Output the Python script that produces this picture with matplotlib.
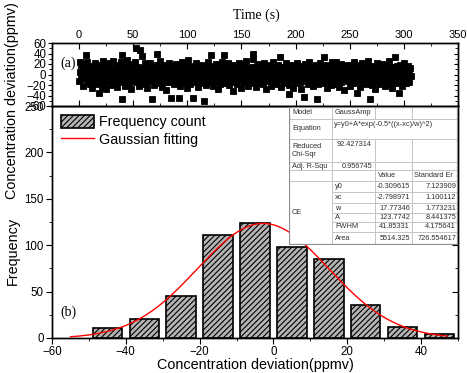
import matplotlib
matplotlib.use('Agg')
import matplotlib.pyplot as plt
import numpy as np
from matplotlib.ticker import MultipleLocator

plt.rcParams['font.family'] = ['Liberation Sans', 'DejaVu Sans']
plt.rcParams['hatch.linewidth'] = 0.8

# ---------------- data ----------------
# (a) concentration deviation time series (ppmv)
conc_dev = [
    -12, 24, 5, -8, 18, -3, 10, -22, 2, 15, -6, 20, 37, 23, -15, 8, -2, 12, -18, 4,
    -9, 16, -25, 6, 1, -14, 22, -4, 9, -19, 13, -7, -36, 3, 19, -11, 7, -23, 11, -1,
    25, -16, 4, -8, 14, -28, 0, 17, -5, 21, -13, 8, -20, 2, 12, -3, 26, -10, 6, -17,
    10, -2, 19, -24, 5, -9, 15, -14, 1, 23, 37, -46, 7, -6, 18, -21, 3, 11, -12, 28,
    -4, 9, -18, 13, -1, 20, -27, 6, -10, 16, -7, 2, 24, 50, -15, 10, -5, 14, -22, 4,
    46, -11, 8, -3, 35, -19, 12, -8, 0, 22, -16, 5, -26, 17, -2, 9, -13, 21, -6, 3,
    -46, 15, -9, 7, -20, 11, 1, -14, 19, 40, -4, 6, -17, 13, 25, -7, 2, -23, 10, -1,
    18, -12, 4, -29, 14, -5, 8, -15, 22, 0, -9, 11, -44, 6, -2, 16, -19, 3, 12, -8,
    20, -13, 5, -3, -44, 9, -21, 15, -6, 1, 24, -10, 7, -16, 12, -1, 18, -25, 4, 27,
    -7, 10, -18, 2, 14, -11, 6, -4, -45, 17, -14, 8, -2, 21, -9, 3, -24, 13, 0, -6,
    11, -17, 5, 19, -12, -50, 7, -3, 15, -20, 2, 9, -8, 23, -15, 4, -1, 12, 37, -10,
    6, -22, 16, -5, 1, 20, -13, 8, -28, 13, -2, 5, -18, 10, -7, 24, -11, 3, 17, 37,
    -6, 9, -16, 2, 14, -9, 21, -20, 6, -3, 11, -14, 0, 18, -31, 7, -8, 15, -1, 4,
    -19, 12, -5, 22, -11, 3, 16, -26, 8, -2, 10, -15, 19, -7, 1, 25, -12, 5, -21, 13,
    -4, 9, -17, 2, 15, -9, 40, 30, 6, -13, 11, -1, -23, 17, -6, 4, 20, -16, 8, -3,
    13, -10, 1, -19, 21, -5, 7, -27, 14, -2, 10, -12, 5, 18, -8, 0, -22, 12, -4, 23,
    -14, 6, -1, 16, -18, 9, -7, 2, 19, -11, 33, -3, 11, -24, 4, -9, 14, 1, -16, 8,
    22, -6, 3, -13, 10, -20, -37, 15, -2, 7, -10, 18, -25, 5, 12, -4, 0, -17, 21, -8,
    9, -1, 14, -15, 4, -28, 17, -6, 11, -12, 2, -42, 20, -9, 6, -3, 13, -19, 8, 24,
    -11, 1, 16, -7, 10, -22, 5, -14, 19, -2, 12, -47, 3, -18, 8, 14, -5, 21, -10, 0,
    7, -16, 11, -4, 33, -12, 2, 18, -26, 6, -8, 15, -1, 9, -20, 13, -3, 23, -14, 4,
    -7, 10, -18, 23, 1, 16, -11, 5, -23, 12, -2, 20, -15, 7, -6, 14, -29, 3, 17, -9,
    2, 11, -13, 19, -4, 8, -21, 0, 15, -8, 6, -17, 24, -3, 10, -12, 4, -35, 13, -1,
    18, -10, 7, -24, 12, -5, 21, -16, 3, 9, -2, 15, -19, 6, -7, 26, -13, 1, 11, -47,
    -6, 14, -20, 4, 17, -9, 8, -27, 12, -1, 22, -14, 5, -4, 10, -18, 16, 2, -11, 20,
    -5, 9, -15, 13, -22, 3, 18, -8, 7, -12, 25, -2, 11, -19, 6, 15, -26, 0, 12, -7,
    33, -10, 4, 16, -16, 8, -3, -35, 19, -6, 10, -21, 2, 14, -13, 21, -1, 7, -17, 11,
    -4, 17, -9, 5, -14, 12, -2,
]
sample_interval_s = 0.561

# (b) histogram
bin_centers = [-45, -35, -25, -15, -5, 5, 15, 25, 35, 45]
bin_counts = [11, 21, 45, 111, 124, 98, 85, 36, 12, 4]

# Gaussian fit parameters (from the table)
fit_y0 = -0.309615
fit_xc = -2.798971
fit_w = 17.77346
fit_A = 123.7742
fit_xmin, fit_xmax = -55, 47

# fit report table
tbl_top = [
    ["Model", "GaussAmp"],
    ["Equation", "y=y0+A*exp(-0.5*((x-xc)/w)^2)"],
    ["Reduced\nChi-Sqr", "92.427314"],
    ["Adj. R-Squ", "0.956745"],
]
tbl_header = ["Value", "Standard Er"]
tbl_group = "CE"
param_names = ["y0", "xc", "w", "A", "FWHM", "Area"]
param_values = ["-0.309615", "-2.798971", "17.77346", "123.7742", "41.85331", "5514.325"]
param_errors = ["7.123909", "1.100112", "1.773231", "8.441375", "4.175641", "726.554617"]

# ---------------- figure ----------------
W, H = 467, 373
fig = plt.figure(figsize=(W / 100, H / 100), dpi=100)

def fbox(x0, y0, x1, y1):
    return [x0 / W, 1 - y1 / H, (x1 - x0) / W, (y1 - y0) / H]

ax_b = fig.add_axes(fbox(52, 106, 458, 338))
ax_t = fig.add_axes(fbox(52, 43, 458, 106))

# ---- top panel ----
times = np.arange(len(conc_dev)) * sample_interval_s
ax_t.plot(times, conc_dev, linestyle='none', marker='s', markersize=4.0,
          markerfacecolor='black', markeredgecolor='black', markeredgewidth=0.6)
ax_t.set_xlim(-25, 350)
ax_t.set_ylim(-60, 60)
ax_t.xaxis.set_major_locator(MultipleLocator(50))
ax_t.xaxis.set_minor_locator(MultipleLocator(25))
ax_t.yaxis.set_major_locator(MultipleLocator(20))
ax_t.yaxis.set_minor_locator(MultipleLocator(10))
ax_t.tick_params(axis='x', which='both', top=True, bottom=True, labeltop=True,
                 labelbottom=False, direction='in', labelsize=8, pad=2)
ax_t.tick_params(axis='x', which='major', length=4)
ax_t.tick_params(axis='x', which='minor', length=2)
ax_t.tick_params(axis='y', which='both', left=True, right=False, direction='out',
                 labelsize=8.3, pad=1)
ax_t.tick_params(axis='y', which='major', length=3)
ax_t.tick_params(axis='y', which='minor', length=2)
ax_tr = ax_t.twinx()
ax_tr.set_ylim(-60, 60)
ax_tr.yaxis.set_major_locator(MultipleLocator(20))
ax_tr.yaxis.set_minor_locator(MultipleLocator(10))
ax_tr.tick_params(axis='y', which='both', direction='in', labelright=False)
ax_tr.tick_params(axis='y', which='major', length=3)
ax_tr.tick_params(axis='y', which='minor', length=2)
ax_t.text(0.02, 0.68, "(a)", transform=ax_t.transAxes, fontsize=10,
          family='Liberation Serif', va='center', ha='left')

# ---- bottom panel ----
bars = ax_b.bar(bin_centers, bin_counts, width=8, facecolor='#b4b4b4', edgecolor='black',
                hatch='//////', linewidth=1.2, label='Frequency count', zorder=2)
xf = np.linspace(fit_xmin, fit_xmax, 300)
yf = fit_y0 + fit_A * np.exp(-0.5 * ((xf - fit_xc) / fit_w) ** 2)
line, = ax_b.plot(xf, yf, color='red', linewidth=1.0, label='Gaussian fitting', zorder=3)
ax_b.set_xlim(-60, 50)
ax_b.set_ylim(0, 250)
ax_b.xaxis.set_major_locator(MultipleLocator(20))
ax_b.xaxis.set_minor_locator(MultipleLocator(10))
ax_b.yaxis.set_major_locator(MultipleLocator(50))
ax_b.yaxis.set_minor_locator(MultipleLocator(25))
ax_b.tick_params(axis='both', which='both', direction='out', labelsize=8.3, pad=2)
ax_b.tick_params(axis='both', which='major', length=4)
ax_b.tick_params(axis='both', which='minor', length=2.5)
ax_br = ax_b.twinx()
ax_br.set_ylim(0, 250)
ax_br.yaxis.set_major_locator(MultipleLocator(50))
ax_br.yaxis.set_minor_locator(MultipleLocator(25))
ax_br.tick_params(axis='y', which='both', direction='in', labelright=False)
ax_br.tick_params(axis='y', which='major', length=4)
ax_br.tick_params(axis='y', which='minor', length=2.5)
ax_b.set_xlabel("Concentration deviation(ppmv)", fontsize=10.4, labelpad=0)
ax_b.text(0.02, 0.11, "(b)", transform=ax_b.transAxes, fontsize=10,
          family='Liberation Serif', va='center', ha='left')
ax_b.legend([bars, line], ['Frequency count', 'Gaussian fitting'],
            loc='upper left', frameon=False, fontsize=10.3, handlelength=2.35,
            handleheight=1.1, labelspacing=0.2, handletextpad=0.35,
            borderaxespad=0.3, borderpad=0.3)

for a in (ax_t, ax_b, ax_tr, ax_br):
    for s in a.spines.values():
        s.set_linewidth(1.0)

# axis titles
fig.text(256 / W, 1 - 15 / H, "Time (s)", ha='center', va='center', fontsize=10,
         family='Liberation Serif')
fig.text(12 / W, 1 - 101 / H, "Concentration deviation(ppmv)", rotation=90,
         ha='center', va='center', fontsize=10.4)
fig.text(13 / W, 1 - 251 / H, "Frequency", rotation=90, ha='center', va='center',
         fontsize=10.4)

# ---- fit table ----
cx = [289, 332, 375, 412, 458]
ry = [107, 119, 139, 162, 170, 181, 192, 203, 213, 222, 232, 245]
tab = fig.add_axes(fbox(cx[0], ry[0], cx[-1], ry[-1]))
tab.set_xlim(cx[0], cx[-1])
tab.set_ylim(ry[-1], ry[0])
tab.axis('off')
tab.add_patch(plt.Rectangle((cx[0], ry[0]), cx[-1] - cx[0], ry[-1] - ry[0],
                            facecolor='white', edgecolor='none', zorder=0))
lc = '#c4c4c4'
lw = 0.7
# horizontal lines
for i in range(1, len(ry) - 1):
    x0 = cx[1] if i >= 6 else cx[0]
    tab.plot([x0, cx[-1]], [ry[i], ry[i]], color=lc, lw=lw, zorder=1)
# vertical lines
tab.plot([cx[1], cx[1]], [ry[0], ry[-1]], color=lc, lw=lw, zorder=1)
for c in (cx[2], cx[3]):
    tab.plot([c, c], [ry[0], ry[1]], color=lc, lw=lw, zorder=1)
    tab.plot([c, c], [ry[2], ry[-1]], color=lc, lw=lw, zorder=1)
tab.add_patch(plt.Rectangle((cx[0], ry[0]), cx[-1] - cx[0], ry[-1] - ry[0],
                            facecolor='none', edgecolor='#8c8c8c', lw=1.6, zorder=3))
fs = 5.3
tc = '#303030'
def mid(i):
    return (ry[i] + ry[i + 1]) / 2
# top rows
tab.text(cx[0] + 3, mid(0), tbl_top[0][0], fontsize=fs, color=tc, va='center')
tab.text(cx[1] + 3, mid(0), tbl_top[0][1], fontsize=fs, color=tc, va='center')
tab.text(cx[0] + 3, mid(1), tbl_top[1][0], fontsize=fs, color=tc, va='center')
tab.text(cx[1] + 2, ry[1] + 1.5, tbl_top[1][1], fontsize=fs, color=tc, va='top')
tab.text(cx[0] + 3, mid(2), tbl_top[2][0], fontsize=fs, color=tc, va='center',
         linespacing=1.3)
tab.text(cx[2] - 3, ry[2] + 1.5, tbl_top[2][1], fontsize=fs, color=tc, va='top', ha='right')
tab.text(cx[0] + 3, mid(3), tbl_top[3][0], fontsize=fs, color=tc, va='center')
tab.text(cx[2] - 3, mid(3), tbl_top[3][1], fontsize=fs, color=tc, va='center', ha='right')
tab.text(cx[2] + 3, mid(4), tbl_header[0], fontsize=fs, color=tc, va='center')
tab.text(cx[3] + 2, mid(4), tbl_header[1], fontsize=fs, color=tc, va='center', clip_on=True)
tab.text(cx[0] + 3, (ry[5] + ry[-1]) / 2, tbl_group, fontsize=fs, color=tc, va='center')
for k in range(len(param_names)):
    r = 5 + k
    tab.text(cx[1] + 3, mid(r), param_names[k], fontsize=fs, color=tc, va='center')
    tab.text(cx[3] - 2, mid(r), param_values[k], fontsize=fs, color=tc, va='center', ha='right')
    tab.text(cx[4] - 2, mid(r), param_errors[k], fontsize=fs, color=tc, va='center', ha='right')

fig.savefig('out.png', dpi=100)
